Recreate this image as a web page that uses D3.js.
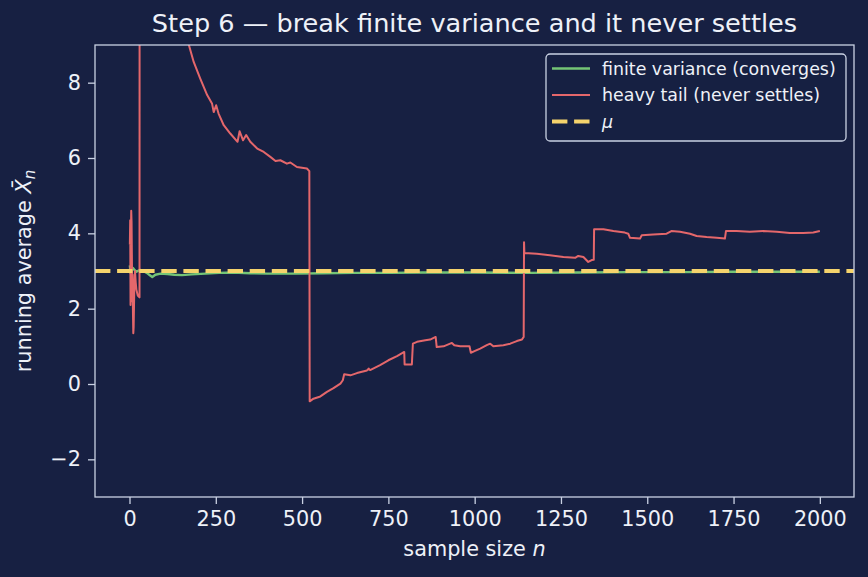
<!DOCTYPE html>
<html>
<head>
<meta charset="utf-8">
<script src="https://cdn.jsdelivr.net/npm/d3@7"></script>
<style>
  html, body { margin: 0; padding: 0; background: #172042; }
  svg { display: block; font-family: "DejaVu Sans", sans-serif; }
</style>
</head>
<body>
<svg id="chart"></svg>
<script>
// values
let finiteN = [1, 3, 6, 10, 15, 20, 30, 40, 50, 60, 66, 75, 90, 110, 130, 152, 180, 220, 260, 300, 350, 400, 480, 560, 650, 750, 850, 1000, 1150, 1300, 1450, 1600, 1750, 1900, 2000];
let finiteV = [3.15, 2.95, 3.05, 3.08, 3.02, 2.98, 3.03, 3.0, 2.95, 2.88, 2.84, 2.9, 2.93, 2.92, 2.9, 2.89, 2.91, 2.93, 2.95, 2.96, 2.94, 2.93, 2.93, 2.94, 2.95, 2.95, 2.96, 2.96, 2.95, 2.96, 2.97, 2.97, 2.98, 2.98, 2.98];

let heavyN = [1, 2, 3, 4, 5, 6, 7, 8, 9, 10, 11, 12, 14, 16, 18, 20, 24, 29, 30, 40, 50, 70, 90, 110, 130, 150, 172, 186, 205, 225, 239, 244, 251, 258, 273, 292, 313, 319, 329, 338, 350, 370, 389, 408, 423, 437, 456, 466, 485, 514, 521,
  522, 533, 553, 572, 591, 611, 618, 622, 640, 659, 688, 693, 697, 726, 750, 775, 796, 797, 818, 821, 833, 857, 871, 887, 890, 910, 934, 941, 958, 985, 989, 1001, 1016, 1035, 1045, 1054, 1083, 1103, 1122, 1137, 1142,
  1143, 1144, 1180, 1218, 1257, 1291, 1300, 1315, 1329, 1339, 1345, 1346, 1373, 1402, 1435, 1445, 1450, 1479, 1484, 1517, 1556, 1570, 1595, 1624, 1643, 1672, 1701, 1725, 1728, 1759, 1797, 1836, 1875, 1913, 1952, 1981, 2000];
let heavyV = [3.7, 4.35, 2.1, 3.9, 4.6, 4.3, 3.3, 2.2, 2.9, 1.9, 1.35, 1.5, 2.6, 3.0, 2.7, 2.5, 2.35, 2.3, 35, 26.5, 21.8, 15.9, 12.9, 11.0, 9.9, 9.3, 9.0, 8.55, 8.11, 7.67, 7.45, 7.22, 7.40, 7.18, 6.87, 6.65, 6.43, 6.71, 6.47, 6.61, 6.43, 6.25, 6.16, 6.03, 5.92, 5.94, 5.85, 5.88, 5.76, 5.72, 5.65,
  -0.46, -0.39, -0.33, -0.21, -0.11, 0.01, 0.10, 0.26, 0.23, 0.29, 0.36, 0.41, 0.37, 0.50, 0.63, 0.74, 0.85, 0.52, 0.52, 1.07, 1.12, 1.16, 1.18, 1.25, 0.98, 1.00, 1.09, 1.03, 1.00, 1.00, 0.83, 0.88, 0.94, 1.03, 1.07, 1.00, 1.03, 1.07, 1.14, 1.18, 1.25,
  3.76, 3.48, 3.46, 3.42, 3.37, 3.35, 3.40, 3.37, 3.24, 3.29, 3.30, 4.11, 4.11, 4.06, 4.02, 3.99, 3.88, 3.86, 3.95, 3.97, 3.99, 4.06, 4.04, 3.99, 3.93, 3.90, 3.88, 3.86, 4.06, 4.06, 4.04, 4.06, 4.04, 4.01, 4.01, 4.02, 4.06];

let mu = 3;
let xTicks = [0, 250, 500, 750, 1000, 1250, 1500, 1750, 2000];
let yTicks = [-2, 0, 2, 4, 6, 8];
let legendLabels = ['finite variance (converges)', 'heavy tail (never settles)', 'μ'];

let width = 868;
let height = 577;
let margin = {left: 95, right: 14, top: 45, bottom: 80};

let bg = '#172042';
let axisColor = '#c9d1e3';
let textColor = '#eef1f8';
let green = '#74c476';
let red = '#e4676b';
let yellow = '#f5d36c';

let svg = d3.select('#chart')
    .attr('width', width)
    .attr('height', height);

svg.append('rect')
    .attr('width', width)
    .attr('height', height)
    .attr('fill', bg);

let xScale = d3.scaleLinear()
    .domain([-99.95, 2098.95])
    .range([margin.left, width - margin.right]);

let yScale = d3.scaleLinear()
    .domain([-3, 9])
    .range([height - margin.bottom, margin.top]);

svg.append('clipPath')
    .attr('id', 'plot-clip')
    .append('rect')
    .attr('x', margin.left)
    .attr('y', margin.top)
    .attr('width', width - margin.left - margin.right)
    .attr('height', height - margin.top - margin.bottom);

let plot = svg.append('g').attr('clip-path', 'url(#plot-clip)');

let line = d3.line()
    .x(d => xScale(d[0]))
    .y(d => yScale(d[1]));

plot.append('path')
    .datum(d3.zip(finiteN, finiteV))
    .attr('d', line)
    .attr('fill', 'none')
    .attr('stroke', green)
    .attr('stroke-width', 2.4)
    .attr('stroke-linejoin', 'round');

plot.append('path')
    .datum(d3.zip(heavyN, heavyV))
    .attr('d', line)
    .attr('fill', 'none')
    .attr('stroke', red)
    .attr('stroke-width', 2)
    .attr('stroke-linejoin', 'round');

plot.append('line')
    .attr('x1', xScale.range()[0])
    .attr('x2', xScale.range()[1])
    .attr('y1', yScale(mu))
    .attr('y2', yScale(mu))
    .attr('stroke', yellow)
    .attr('stroke-width', 4.2)
    .attr('stroke-dasharray', '15.4,6.7');

// axes
let xAxis = d3.axisBottom(xScale)
    .tickValues(xTicks)
    .tickSize(7)
    .tickPadding(7)
    .tickFormat(d3.format('d'));

let yAxis = d3.axisLeft(yScale)
    .tickValues(yTicks)
    .tickSize(7)
    .tickPadding(7)
    .tickFormat(d => d < 0 ? '\u2212' + Math.abs(d) : d);

let gx = svg.append('g')
    .attr('transform', 'translate(0,' + (height - margin.bottom) + ')')
    .call(xAxis);

let gy = svg.append('g')
    .attr('transform', 'translate(' + margin.left + ',0)')
    .call(yAxis);

[gx, gy].forEach(g => {
    g.select('.domain').remove();
    g.selectAll('line').attr('stroke', axisColor).attr('stroke-width', 1.3);
    g.selectAll('text')
        .attr('fill', textColor)
        .style('font-size', '20.8px')
        .style('font-family', '"DejaVu Sans", sans-serif');
});

svg.append('rect')
    .attr('x', margin.left)
    .attr('y', margin.top)
    .attr('width', width - margin.left - margin.right)
    .attr('height', height - margin.top - margin.bottom)
    .attr('fill', 'none')
    .attr('stroke', axisColor)
    .attr('stroke-width', 1.3);

// title and labels
let cx = (xScale.range()[0] + xScale.range()[1]) / 2;
let cy = (yScale.range()[0] + yScale.range()[1]) / 2;

svg.append('text')
    .attr('x', cx)
    .attr('y', 32)
    .attr('text-anchor', 'middle')
    .attr('fill', textColor)
    .style('font-size', '25.6px')
    .text('Step 6 \u2014 break finite variance and it never settles');

let xl = svg.append('text')
    .attr('x', cx)
    .attr('y', 556)
    .attr('text-anchor', 'middle')
    .attr('fill', textColor)
    .style('font-size', '20.8px');
xl.append('tspan').text('sample size ');
xl.append('tspan').attr('font-style', 'italic').text('n');

let yl = svg.append('text')
    .attr('transform', 'translate(31,' + cy + ') rotate(-90)')
    .attr('text-anchor', 'middle')
    .attr('fill', textColor)
    .style('font-size', '20.8px');
yl.append('tspan').text('running average ');
yl.append('tspan').attr('font-style', 'italic').text('X\u0304');
yl.append('tspan').attr('font-style', 'italic').attr('dy', 4).style('font-size', '15px').text('n');

// legend
let legend = svg.append('g').attr('transform', 'translate(546,54)');

legend.append('rect')
    .attr('width', 300)
    .attr('height', 87)
    .attr('rx', 4)
    .attr('fill', bg)
    .attr('fill-opacity', 0.8)
    .attr('stroke', axisColor)
    .attr('stroke-width', 1.3);

let legendStyles = [
    {color: green, width: 2.4, dash: null},
    {color: red, width: 2, dash: null},
    {color: yellow, width: 4.2, dash: '15.4,6.7'}
];

legendLabels.forEach((label, i) => {
    let row = legend.append('g').attr('transform', 'translate(0,' + (14.5 + i * 26.5) + ')');
    row.append('line')
        .attr('x1', 6)
        .attr('x2', 44)
        .attr('stroke', legendStyles[i].color)
        .attr('stroke-width', legendStyles[i].width)
        .attr('stroke-dasharray', legendStyles[i].dash);
    row.append('text')
        .attr('x', 56)
        .attr('dy', '0.35em')
        .attr('fill', textColor)
        .attr('font-style', i === 2 ? 'italic' : null)
        .style('font-size', '17.4px')
        .text(label);
});
</script>
</body>
</html>
